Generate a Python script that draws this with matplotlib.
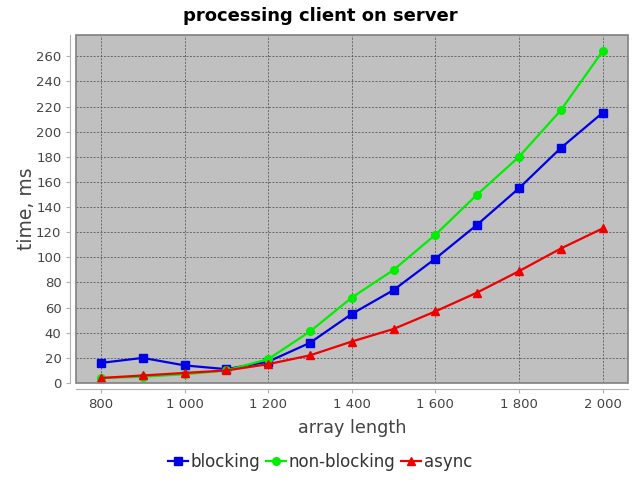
import matplotlib.pyplot as plt
from matplotlib.patches import Rectangle
from matplotlib.ticker import FuncFormatter, MultipleLocator

# array lengths and timings
lengths = [800, 900, 1000, 1100, 1200, 1300, 1400, 1500, 1600, 1700, 1800, 1900, 2000]
blocking = [16, 20, 14, 11, 17, 32, 55, 74, 99, 126, 155, 187, 215]
non_blocking = [4, 5, 7, 10, 19, 41, 68, 90, 118, 150, 180, 217, 264]
async_ms = [4, 6, 8, 10, 15, 22, 33, 43, 57, 72, 89, 107, 123]

fig = plt.figure(figsize=(6.4, 4.8), dpi=100)
ax = fig.add_axes([76 / 640, 1 - 383 / 480, 552 / 640, 348 / 480])
ax.set_facecolor("#c0c0c0")

ax.plot(lengths, blocking, color="#0000e6", lw=1.6, marker="s", ms=6, label="blocking")
ax.plot(lengths, non_blocking, color="#00ee00", lw=1.6, marker="o", ms=5.5, label="non-blocking")
ax.plot(lengths, async_ms, color="#ee0000", lw=1.6, marker="^", ms=6, label="async")

ax.set_xlim(740, 2061)
ax.set_ylim(0, 277)
ax.xaxis.set_major_locator(MultipleLocator(200))
ax.yaxis.set_major_locator(MultipleLocator(20))
ax.xaxis.set_major_formatter(FuncFormatter(lambda v, p: f"{int(v):,}".replace(",", " ")))
ax.grid(True, color="#505050", ls=(0, (2.5, 2)), lw=0.55)
ax.set_axisbelow(True)

# plot border plus offset axis lines, like the original
for s in ["top", "right"]:
    ax.spines[s].set_visible(False)
for s in ["left", "bottom"]:
    ax.spines[s].set_position(("outward", 4))
    ax.spines[s].set_color("#b0b0b0")
ax.add_patch(Rectangle((0, 0), 1, 1, transform=ax.transAxes, fill=False,
                       edgecolor="#808080", lw=1.2, clip_on=False, zorder=5))
ax.tick_params(colors="#b0b0b0", labelcolor="#444444", labelsize=9.5, length=3)

ax.set_xlabel("array length", fontsize=12.7, color="#444444", labelpad=6)
ax.set_ylabel("time, ms", fontsize=13.5, color="#444444", labelpad=0)
fig.suptitle("processing client on server", fontsize=13, fontweight="bold", y=0.985)

fig.legend(loc="lower center", bbox_to_anchor=(0.5, -0.012), ncol=3, frameon=False,
           fontsize=12, handlelength=1.2, handletextpad=0.2, columnspacing=0.3,
           labelcolor="#333333")

fig.savefig("out.png", dpi=100)
